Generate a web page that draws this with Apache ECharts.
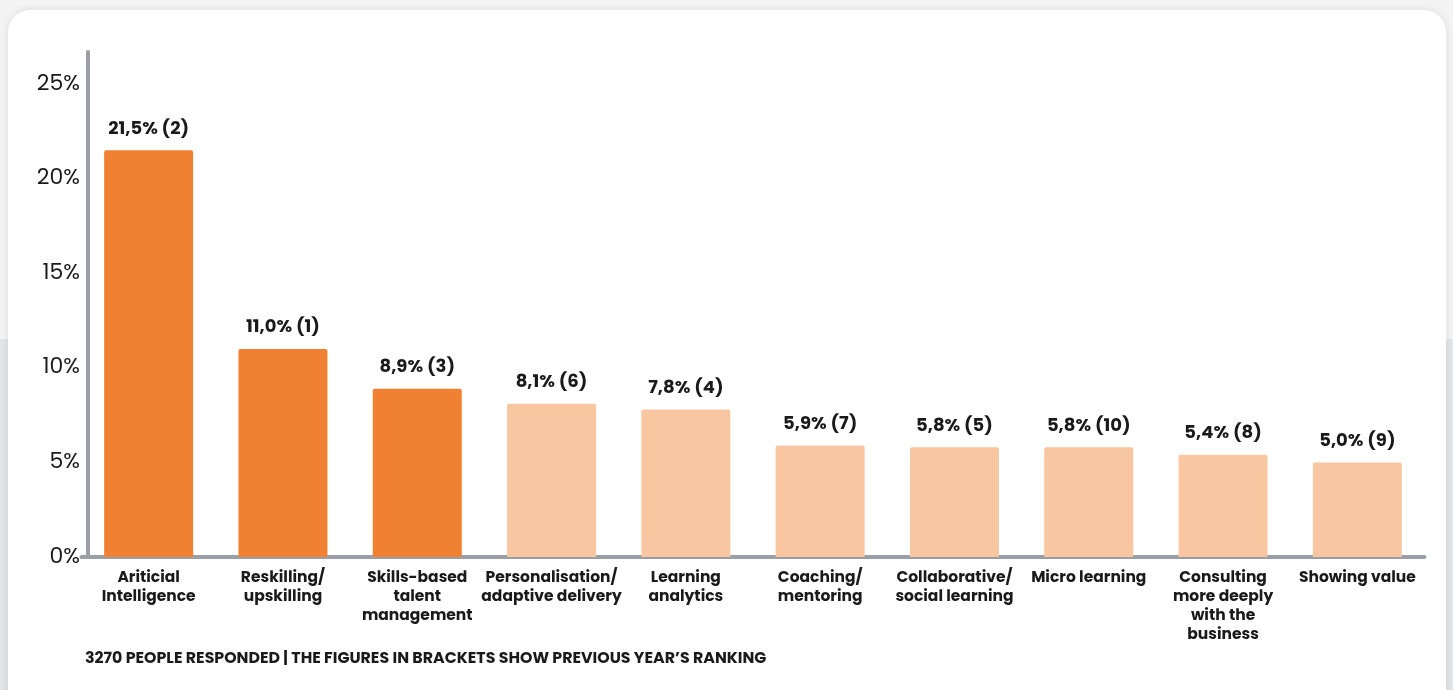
<!DOCTYPE html>
<html>
<head>
<meta charset="utf-8">
<script src="https://cdn.jsdelivr.net/npm/echarts@6/dist/echarts.min.js"></script>
<style>
  html, body { margin:0; padding:0; width:1453px; height:690px; overflow:hidden;
    background: linear-gradient(to bottom, #f4f4f4 0, #f4f4f4 339px, #e3e6e9 339px, #e3e6e9 100%); }
  #card { position:absolute; left:8px; top:10px; width:1438px; height:720px; background:#fff;
    border-radius:22px; box-shadow:0 0 8px rgba(0,0,0,0.10); }
  #chart { position:absolute; left:0; top:0; width:1453px; height:690px; }
</style>
</head>
<body>
<div id="card"></div>
<div id="chart"></div>
<script>
const categories = [
  "Ariticial\nIntelligence",
  "Reskilling/\nupskilling",
  "Skills-based\ntalent\nmanagement",
  "Personalisation/\nadaptive delivery",
  "Learning\nanalytics",
  "Coaching/\nmentoring",
  "Collaborative/\nsocial learning",
  "Micro learning",
  "Consulting\nmore deeply\nwith the\nbusiness",
  "Showing value"
];
const values = [21.5, 11.0, 8.9, 8.1, 7.8, 5.9, 5.8, 5.8, 5.4, 5.0];
const previousRank = [2, 1, 3, 6, 4, 7, 5, 10, 8, 9];
const highlighted = [true, true, true, false, false, false, false, false, false, false];
const yTicks = [0, 5, 10, 15, 20, 25];
const footnote = "3270 PEOPLE RESPONDED | THE FIGURES IN BRACKETS SHOW PREVIOUS YEAR\u2019S RANKING";

const DARK = "#F08133", LIGHT = "#F8C7A1", AXIS = "#9A9EA6";
const FONT = "Poppins, Inter, 'Noto Sans', sans-serif";

const chart = echarts.init(document.getElementById('chart'));
chart.setOption({
  animation: false,
  textStyle: { fontFamily: FONT },
  title: {
    text: footnote, left: 85, top: 651, padding: 0,
    textStyle: { fontSize: 15.8, fontWeight: 'bold', color: '#1a1a1a', fontFamily: FONT }
  },
  grid: { left: 81.5, right: 28.5, top: 52, bottom: 133, containLabel: false },
  xAxis: {
    type: 'category', data: categories,
    axisLine: { show: true, lineStyle: { color: AXIS, width: 4, cap: 'round' } },
    axisTick: { show: false },
    axisLabel: { interval: 0, margin: 12, fontSize: 15.5, fontWeight: 'bold', lineHeight: 19,
      color: '#1a1a1a', fontFamily: FONT, verticalAlign: 'top' }
  },
  yAxis: {
    type: 'value', min: 0, max: 26.7, interval: 5, offset: -6.5,
    axisLine: { show: true, lineStyle: { color: AXIS, width: 4, cap: 'round' } },
    axisTick: { show: false },
    splitLine: { show: false },
    axisLabel: { showMaxLabel: false, margin: 8, fontSize: 22, color: '#1a1a1a', fontFamily: FONT,
      formatter: v => yTicks.includes(v) ? v + '%' : '' }
  },
  series: [{
    type: 'bar', barWidth: 89,
    data: values.map((v, i) => ({ value: v, itemStyle: { color: highlighted[i] ? DARK : LIGHT } })),
    itemStyle: { borderRadius: [2, 2, 0, 0] },
    label: {
      show: true, position: 'top', distance: 12, fontSize: 18, fontWeight: 'bold', color: '#1a1a1a',
      fontFamily: FONT,
      formatter: p => values[p.dataIndex].toFixed(1).replace('.', ',') + '% (' + previousRank[p.dataIndex] + ')'
    }
  }]
});
</script>
</body>
</html>
